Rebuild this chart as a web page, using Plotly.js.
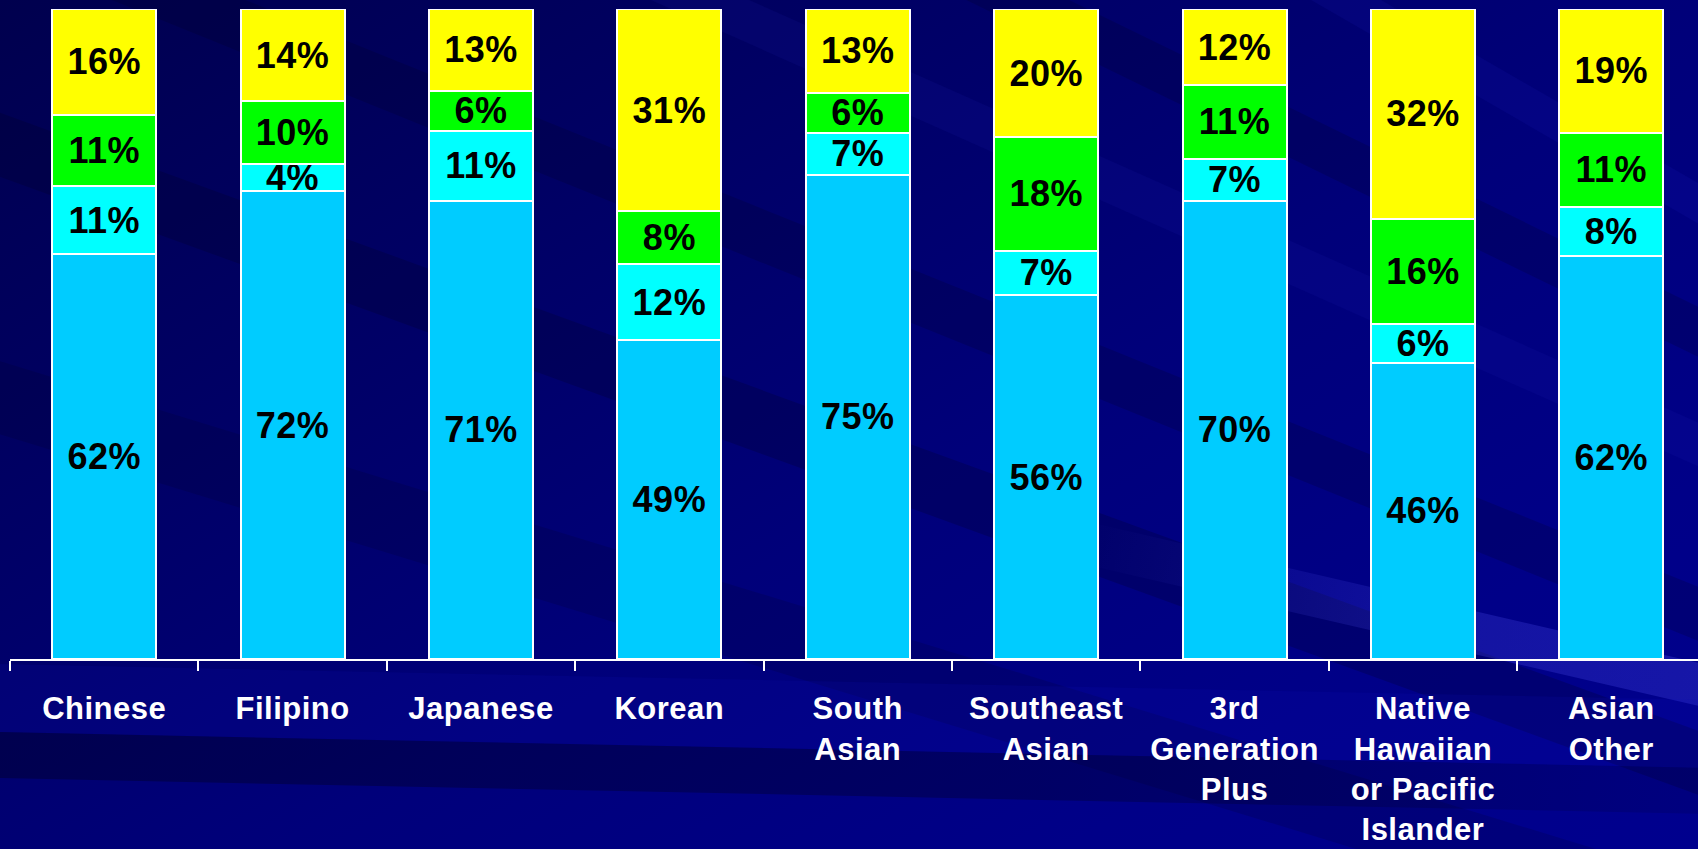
<!DOCTYPE html>
<html>
<head>
<meta charset="utf-8">
<script src="https://cdn.plot.ly/plotly-3.0.1.min.js"></script>
<style>
html, body { margin: 0; padding: 0; }
body {
  width: 1698px; height: 849px; overflow: hidden; position: relative;
  background: linear-gradient(150deg, #00004e 0%, #000066 30%, #00007a 55%, #000088 80%, #00008e 100%);
}
#bg { position: absolute; left: 0; top: 0; width: 1698px; height: 849px; overflow: hidden; }
.streak { position: absolute; transform-origin: 0 0; }
#chart { position: absolute; left: 0; top: 0; width: 1698px; height: 849px; }
.xtick text { letter-spacing: 0.5px; }
text.bartext { letter-spacing: 0.5px; }
</style>
</head>
<body>
<div id="bg">
  <!-- subtle diagonal streaks of the slide background -->
  <div class="streak" style="left:-200px; top:40px; width:2400px; height:60px; transform:rotate(20deg); background:rgba(0,0,30,0.22);"></div>
  <div class="streak" style="left:-200px; top:-180px; width:2400px; height:50px; transform:rotate(22deg); background:rgba(0,0,30,0.18);"></div>
  <div class="streak" style="left:300px; top:-200px; width:2400px; height:40px; transform:rotate(24deg); background:rgba(40,40,200,0.10);"></div>
  <div class="streak" style="left:700px; top:-180px; width:2400px; height:45px; transform:rotate(26deg); background:rgba(0,0,30,0.18);"></div>
  <div class="streak" style="left:1000px; top:-220px; width:2400px; height:35px; transform:rotate(30deg); background:rgba(40,40,220,0.10);"></div>
  <div class="streak" style="left:-200px; top:300px; width:2400px; height:70px; transform:rotate(17deg); background:rgba(0,0,30,0.15);"></div>
  <!-- bright streak lower right -->
  <div class="streak" style="left:1080px; top:520px; width:900px; height:42px; transform:rotate(13deg); background:linear-gradient(to right, rgba(90,90,255,0) 0%, rgba(90,90,255,0.22) 45%, rgba(90,90,255,0.28) 100%);"></div>
  <!-- lighter band above the dark band at bottom -->
  <div class="streak" style="left:-100px; top:662px; width:1900px; height:68px; transform:rotate(1.2deg); background:rgba(20,20,200,0.12);"></div>
  <!-- dark band at bottom -->
  <div class="streak" style="left:-100px; top:730px; width:1900px; height:46px; transform:rotate(1.2deg); background:linear-gradient(to right, rgba(0,0,40,0.45) 0%, rgba(0,0,40,0.35) 60%, rgba(0,0,40,0.1) 100%);"></div>
</div>
<div id="chart"></div>
<script>
const categories = ["Chinese", "Filipino", "Japanese", "Korean", "South<br>Asian",
  "Southeast<br>Asian", "3rd<br>Generation<br>Plus", "Native<br>Hawaiian<br>or Pacific<br>Islander", "Asian<br>Other"];

// segment values (percent of bar height, bottom to top)
const seriesA = [62.3, 72.0, 70.5, 49.1, 74.5, 56.0, 70.5, 45.6, 62.0];
const seriesB = [10.4, 4.1, 10.8, 11.6, 6.5, 6.8, 6.5, 5.9, 7.6];
const seriesC = [11.0, 9.7, 6.1, 8.2, 6.1, 17.5, 11.3, 16.2, 11.4];
const seriesD = [16.3, 14.2, 12.6, 31.1, 12.9, 19.7, 11.7, 32.3, 19.0];

// printed labels
const labelsA = ["62%", "72%", "71%", "49%", "75%", "56%", "70%", "46%", "62%"];
const labelsB = ["11%", "4%", "11%", "12%", "7%", "7%", "7%", "6%", "8%"];
const labelsC = ["11%", "10%", "6%", "8%", "6%", "18%", "11%", "16%", "11%"];
const labelsD = ["16%", "14%", "13%", "31%", "13%", "20%", "12%", "32%", "19%"];

const colors = ["#00CCFF", "#00FFFF", "#00FF00", "#FFFF00"];
const FONT = '"Liberation Sans", Arial, sans-serif';

function mk(vals, labels, color) {
  return {
    type: "bar",
    x: categories,
    y: vals,
    text: labels,
    textposition: "inside",
    insidetextanchor: "middle",
    textangle: 0,
    constraintext: "none",
    textfont: { family: FONT, size: 36, color: "#000000", weight: "bold" },
    marker: { color: color, line: { color: "#FFFFFF", width: 2 } },
    hoverinfo: "skip",
    cliponaxis: false
  };
}

const data = [
  mk(seriesA, labelsA, colors[0]),
  mk(seriesB, labelsB, colors[1]),
  mk(seriesC, labelsC, colors[2]),
  mk(seriesD, labelsD, colors[3])
];

const layout = {
  width: 1698, height: 849,
  margin: { l: 10, r: 0, t: 9, b: 190 },
  paper_bgcolor: "rgba(0,0,0,0)",
  plot_bgcolor: "rgba(0,0,0,0)",
  barmode: "stack",
  bargap: 0.448,
  showlegend: false,
  xaxis: {
    type: "category",
    range: [-0.5, 8.46],
    showline: true, linecolor: "#FFFFFF", linewidth: 2,
    ticks: "outside", tickson: "boundaries", ticklen: 10, tickwidth: 2, tickcolor: "#FFFFFF",
    showgrid: false, zeroline: false,
    tickfont: { family: FONT, size: 31, color: "#FFFFFF", weight: "bold" },
    ticklabelstandoff: 21
  },
  yaxis: {
    range: [0, 100], visible: false, showgrid: false, zeroline: false, fixedrange: true
  }
};

Plotly.newPlot("chart", data, layout, { staticPlot: true, displayModeBar: false });
</script>
</body>
</html>
